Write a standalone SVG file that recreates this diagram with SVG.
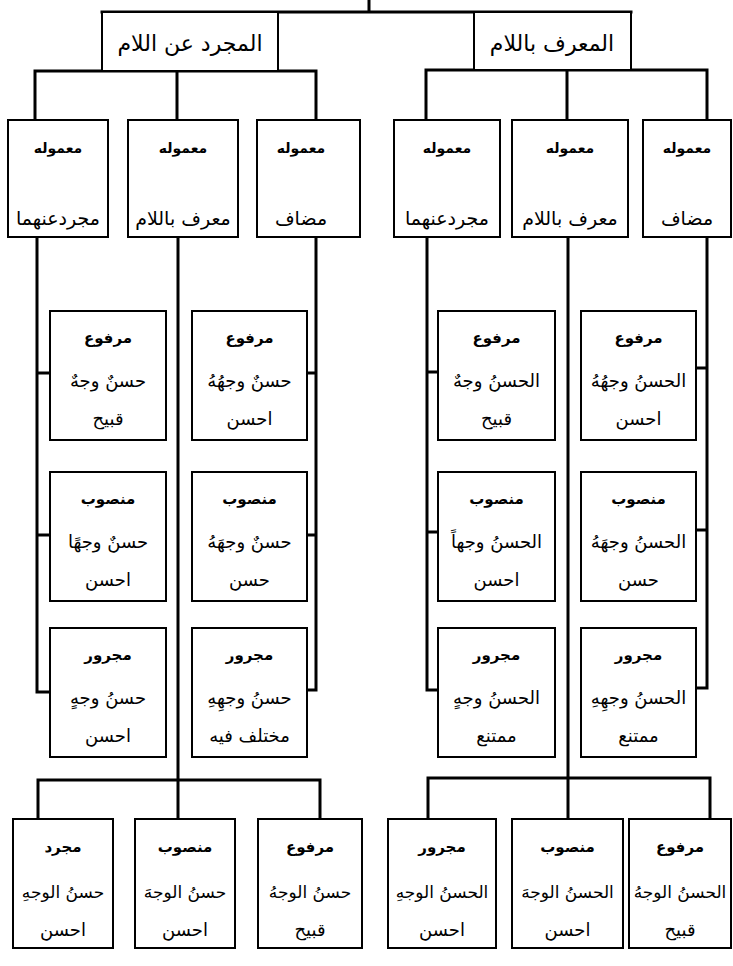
<svg xmlns="http://www.w3.org/2000/svg" width="733" height="966" viewBox="0 0 733 966">
<style>
.box{fill:#fff;stroke:#000;stroke-width:2}
.con{stroke:#000;stroke-width:3;fill:none;stroke-linecap:square}
text{font-family:"DejaVu Sans",sans-serif;text-anchor:middle;fill:#000}
.big{font-size:22px}
.lbl{font-size:14px;font-weight:bold}
.sub{font-size:19px}
.cat{font-size:15px;font-weight:bold}
.main{font-size:18px}
.bot{font-size:17px}
</style>
<rect width="733" height="966" fill="#fff"/>
<g id="connectors">
<path class="con" d="M369,0V12M102,12H631"/>
<path class="con" d="M35,71H316M35,71V120M177,71V120M316,71V120"/>
<path class="con" d="M426,70H707M426,70V120M567,70V120M707,70V120"/>
<path class="con" d="M37,237V692M37,373H50M37,535H50M37,692H50"/>
<path class="con" d="M316,237V690M307,373H316M307,535H316M307,690H316"/>
<path class="con" d="M178,237V780M38,780H320M38,780V819M178,780V819M320,780V819"/>
<path class="con" d="M427,237V690M427,372H438M427,532H438M427,690H438"/>
<path class="con" d="M707,237V688M696,368H707M696,530H707M696,688H707"/>
<path class="con" d="M568,237V778M428,778H710M428,778V819M568,778V819M710,778V819"/>
</g>
<g id="n-mujarrad"><rect class="box" x="102" y="12" width="176" height="59"/><text class="big" x="190" y="51">المجرد عن اللام</text></g>
<g id="n-muarraf"><rect class="box" x="474" y="12" width="157" height="58"/><text class="big" x="552" y="51">المعرف باللام</text></g>

<g id="a1"><rect class="box" x="8" y="120" width="100" height="117"/><text class="lbl" x="58" y="153">معموله</text><text class="sub" x="58" y="225">مجردعنهما</text></g>
<g id="a2"><rect class="box" x="128" y="120" width="110" height="117"/><text class="lbl" x="183" y="153">معموله</text><text class="sub" x="183" y="225">معرف باللام</text></g>
<g id="a3"><rect class="box" x="257" y="120" width="103" height="117"/><text class="lbl" x="301" y="153">معموله</text><text class="sub" x="301" y="225">مضاف</text></g>
<g id="b1"><rect class="box" x="394" y="120" width="106" height="117"/><text class="lbl" x="447" y="153">معموله</text><text class="sub" x="447" y="225">مجردعنهما</text></g>
<g id="b2"><rect class="box" x="512" y="120" width="116" height="117"/><text class="lbl" x="570" y="153">معموله</text><text class="sub" x="570" y="225">معرف باللام</text></g>
<g id="b3"><rect class="box" x="643" y="120" width="88" height="117"/><text class="lbl" x="687" y="153">معموله</text><text class="sub" x="687" y="225">مضاف</text></g>

<g id="c1r1"><rect class="box" x="50" y="311" width="116" height="129"/><text class="cat" x="108" y="343">مرفوع</text><text class="main" x="108" y="387">حسنٌ وجهٌ</text><text class="main" x="108" y="425">قبيح</text></g>
<g id="c1r2"><rect class="box" x="50" y="472" width="116" height="129"/><text class="cat" x="108" y="504">منصوب</text><text class="main" x="108" y="548">حسنٌ وجهًا</text><text class="main" x="108" y="586">احسن</text></g>
<g id="c1r3"><rect class="box" x="50" y="628" width="116" height="129"/><text class="cat" x="108" y="660">مجرور</text><text class="main" x="108" y="704">حسنُ وجهٍ</text><text class="main" x="108" y="742">احسن</text></g>
<g id="c2r1"><rect class="box" x="192" y="311" width="115" height="129"/><text class="cat" x="249.5" y="343">مرفوع</text><text class="main" x="249.5" y="387">حسنٌ وجهُهُ</text><text class="main" x="249.5" y="425">احسن</text></g>
<g id="c2r2"><rect class="box" x="192" y="472" width="115" height="129"/><text class="cat" x="249.5" y="504">منصوب</text><text class="main" x="249.5" y="548">حسنٌ وجهَهُ</text><text class="main" x="249.5" y="586">حسن</text></g>
<g id="c2r3"><rect class="box" x="192" y="628" width="115" height="129"/><text class="cat" x="249.5" y="660">مجرور</text><text class="main" x="249.5" y="704">حسنُ وجهِهِ</text><text class="main" x="249.5" y="742">مختلف فيه</text></g>

<g id="e1r1"><rect class="box" x="438" y="311" width="117" height="129"/><text class="cat" x="496.5" y="343">مرفوع</text><text class="main" x="496.5" y="387">الحسنُ وجهٌ</text><text class="main" x="496.5" y="425">قبيح</text></g>
<g id="e1r2"><rect class="box" x="438" y="472" width="117" height="129"/><text class="cat" x="496.5" y="504">منصوب</text><text class="main" x="496.5" y="548">الحسنُ وجهاً</text><text class="main" x="496.5" y="586">احسن</text></g>
<g id="e1r3"><rect class="box" x="438" y="628" width="117" height="129"/><text class="cat" x="496.5" y="660">مجرور</text><text class="main" x="496.5" y="704">الحسنُ وجهٍ</text><text class="main" x="496.5" y="742">ممتنع</text></g>
<g id="e2r1"><rect class="box" x="581" y="311" width="115" height="129"/><text class="cat" x="638.5" y="343">مرفوع</text><text class="main" x="638.5" y="387">الحسنُ وجهُهُ</text><text class="main" x="638.5" y="425">احسن</text></g>
<g id="e2r2"><rect class="box" x="581" y="472" width="115" height="129"/><text class="cat" x="638.5" y="504">منصوب</text><text class="main" x="638.5" y="548">الحسنُ وجهَهُ</text><text class="main" x="638.5" y="586">حسن</text></g>
<g id="e2r3"><rect class="box" x="581" y="628" width="115" height="129"/><text class="cat" x="638.5" y="660">مجرور</text><text class="main" x="638.5" y="704">الحسنُ وجهِهِ</text><text class="main" x="638.5" y="742">ممتنع</text></g>

<g id="d1"><rect class="box" x="13" y="819" width="100" height="129"/><text class="cat" x="63" y="852">مجرد</text><text class="bot" x="63" y="898">حسنُ الوجهِ</text><text class="main" x="63" y="936">احسن</text></g>
<g id="d2"><rect class="box" x="135" y="819" width="100" height="129"/><text class="cat" x="185" y="852">منصوب</text><text class="bot" x="185" y="898">حسنُ الوجهَ</text><text class="main" x="185" y="936">احسن</text></g>
<g id="d3"><rect class="box" x="258" y="819" width="104" height="129"/><text class="cat" x="310" y="852">مرفوع</text><text class="bot" x="310" y="898">حسنُ الوجهُ</text><text class="main" x="310" y="936">قبيح</text></g>
<g id="f1"><rect class="box" x="388" y="819" width="108" height="129"/><text class="cat" x="442" y="852">مجرور</text><text class="bot" x="442" y="898">الحسنُ الوجهِ</text><text class="main" x="442" y="936">احسن</text></g>
<g id="f2"><rect class="box" x="512" y="819" width="111" height="129"/><text class="cat" x="567.5" y="852">منصوب</text><text class="bot" x="567.5" y="898">الحسنُ الوجهَ</text><text class="main" x="567.5" y="936">احسن</text></g>
<g id="f3"><rect class="box" x="629" y="819" width="102" height="129"/><text class="cat" x="680" y="852">مرفوع</text><text class="bot" x="680" y="898">الحسنُ الوجهُ</text><text class="main" x="680" y="936">قبيح</text></g>
</svg>
